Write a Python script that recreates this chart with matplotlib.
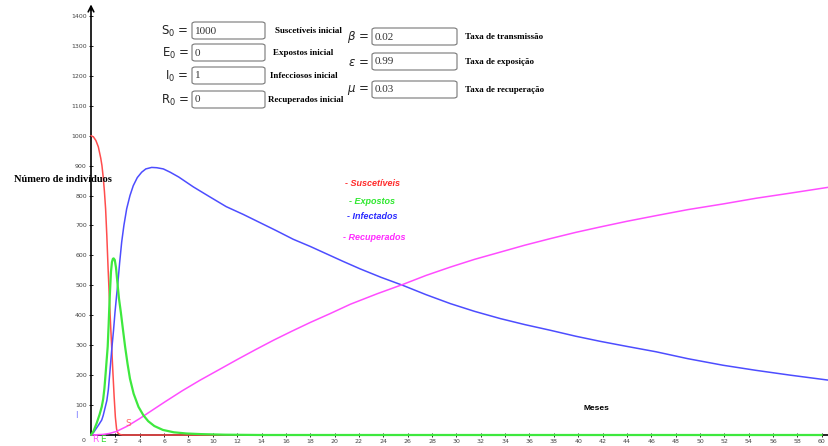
import matplotlib
matplotlib.use("Agg")
import matplotlib.pyplot as plt
from matplotlib.patches import FancyBboxPatch

W, H = 829, 446

# curves read as (month, individuals)
t_s = [0, 0.2, 0.4, 0.6, 0.8, 0.9, 1.0, 1.1, 1.2, 1.3, 1.4, 1.5, 1.6, 1.7,
       1.8, 1.9, 2.0, 2.1, 2.2, 2.35, 2.6, 60]
sus = [1000, 996, 984, 963, 925, 900, 862, 815, 755, 665, 560, 465, 375, 292,
       208, 128, 60, 20, 7, 2, 0, 0]

t_e = [0, 0.2, 0.47, 0.7, 0.88, 1.0, 1.1, 1.2, 1.3, 1.37, 1.45, 1.5, 1.56,
       1.64, 1.72, 1.8, 1.86, 1.95, 2.05, 2.12, 2.19, 2.3, 2.45, 2.6, 2.8,
       3.0, 3.2, 3.5, 3.9, 4.3, 4.7, 5.2, 5.9, 6.8, 7.85, 9, 11, 14, 60]
exp_ = [0, 12, 40, 68, 94, 120, 155, 205, 258, 295, 370, 425, 480,
        545, 578, 589, 590, 585, 560, 530, 500, 455, 410, 360, 295,
        238, 188, 138, 94, 66, 46, 30, 17, 9, 5, 3, 1, 0, 0]

t_i = [0, 0.2, 0.4, 0.6, 0.88, 1.0, 1.15, 1.3, 1.42, 1.55, 1.7, 1.85, 1.97,
       2.1, 2.2, 2.35, 2.52, 2.7, 2.93, 3.2, 3.47, 3.8, 4.16, 4.5, 4.98, 5.4,
       5.94, 6.5, 7.2, 8.4, 9.7, 11.1, 12.5, 13.9, 15.2, 16.6, 18, 19.35,
       20.7, 22.1, 23.8, 25.6, 27.5, 29.5, 31.5, 33.6, 35.6, 37.7, 39.8,
       41.8, 44, 46.4, 49, 51.9, 54.6, 57.4, 60.6]
inf = [1, 8, 20, 32, 50, 65, 90, 115, 150, 210, 285, 350, 410,
       465, 505, 575, 645, 700, 756, 800, 833, 860, 878, 889, 894, 893,
       889, 878, 862, 829, 797, 763, 737, 709, 683, 654, 630, 605,
       580, 555, 527, 500, 469, 439, 413, 389, 369, 350, 330,
       313, 296, 278, 255, 233, 216, 200, 183]

t_r = [0, 1, 1.5, 2.1, 3, 4, 5, 6.08, 7.5, 8.95, 10.5, 12, 13.5, 15, 16.5,
       18, 19.6, 21.3, 23.5, 25.6, 27.5, 29.5, 31.5, 33.6, 35.6, 37.7, 39.8,
       41.8, 44, 46.4, 49, 51.9, 54.6, 57.4, 60.6]
rec = [0, 2, 5, 12, 30, 55, 82, 111, 148, 183, 218, 252, 285, 317, 347,
       376, 405, 437, 472, 503, 533, 561, 587, 611, 634, 656, 677,
       695, 714, 733, 753, 772, 791, 808, 828]

y_ticks = list(range(100, 1500, 100))
x_ticks = list(range(2, 62, 2))

initial = [("S", "1000", "Suscetíveis inicial"),
           ("E", "0", "Expostos inicial"),
           ("I", "1", "Infecciosos inicial"),
           ("R", "0", "Recuperados inicial")]
rates = [(r"\beta", "0.02", "Taxa de transmissão"),
         (r"\epsilon", "0.99", "Taxa de exposição"),
         (r"\mu", "0.03", "Taxa de recuperação")]
legend = [("- Suscetíveis", "#ff2a2a"), ("- Expostos", "#2ee82e"),
          ("- Infectados", "#2a2aff"), ("- Recuperados", "#ff2aff")]

c_s, c_e, c_i, c_r = "#ff4d4d", "#3ee83e", "#4d4dff", "#ff4dff"

x0, xs = 91, 12.18      # origin px, px per month
y0, ys = 435, 0.2993    # origin px, px per individual


def fx(px):
    return px / W


def fy(py):
    return 1 - py / H


fig = plt.figure(figsize=(W / 100, H / 100), dpi=100)
ax = fig.add_axes([0, 0, 1, 1])
ax.set_xlim(-x0 / xs, (W - x0) / xs)
ax.set_ylim(-(H - y0) / ys, y0 / ys)

for s in ["top", "right"]:
    ax.spines[s].set_visible(False)
ax.spines["left"].set_position(("data", 0))
ax.spines["bottom"].set_position(("data", 0))
ax.spines["left"].set_bounds(0, 1430)
ax.spines["bottom"].set_bounds(0, 61)
ax.spines["left"].set_linewidth(1.2)
ax.spines["bottom"].set_linewidth(1.2)
ax.annotate("", xy=(0, 1448), xytext=(0, 1410),
            arrowprops=dict(arrowstyle="->", lw=1.2, color="k"))

ax.set_yticks(y_ticks)
ax.set_xticks(x_ticks)
ax.tick_params(direction="inout", length=3, width=0.6, labelsize=4.5,
               labelcolor="#444444", pad=1.5)
ax.text(-0.45, -10, "0", ha="right", va="top", fontsize=4.5, color="#444444")

kw = dict(solid_joinstyle="round", solid_capstyle="round")
ax.plot(t_s, sus, color=c_s, lw=1.1, zorder=3, **kw)
ax.plot(t_i, inf, color=c_i, lw=1.1, zorder=3, **kw)
ax.plot(t_r, rec, color=c_r, lw=1.1, zorder=3, **kw)
ax.plot(t_e, exp_, color=c_e, lw=1.6, zorder=4, clip_on=False, **kw)

# point labels near the origin
fig.text(fx(76), fy(415), "I", color="#8080ff", fontsize=6.5, ha="center", va="center")
fig.text(fx(95), fy(439), "R", color="#ff55ff", fontsize=6.5, ha="center", va="center")
fig.text(fx(103), fy(439), "E", color="#33dd33", fontsize=6.5, ha="center", va="center")
fig.text(fx(128), fy(424), "S", color="#ff6666", fontsize=6.5, ha="center", va="center")

fig.text(fx(14), fy(180), "Número de indivíduos", family="Liberation Serif",
         fontweight="bold", fontsize=7.5, va="center")
fig.text(fx(584), fy(409), "Meses", family="Liberation Sans",
         fontweight="bold", fontsize=6, va="center")

# input boxes for the initial values
box_top = [22, 44, 67, 91]
label_x = [275, 273, 270, 268]
for (name, val, desc), top, lx in zip(initial, box_top, label_x):
    left = 192
    fig.patches.append(FancyBboxPatch((fx(left), fy(top + 17)), 73 / W, 17 / H,
                                      boxstyle="round,pad=0,rounding_size=0.004",
                                      transform=fig.transFigure, fc="white",
                                      ec="#777777", lw=0.8))
    fig.text(fx(left - 3), fy(top + 9), name + "$_0$ =", ha="right", va="center",
             fontsize=8.5, color="#222222")
    fig.text(fx(left + 3), fy(top + 9), val, ha="left", va="center",
             family="Liberation Serif", fontsize=8, color="#333333")
    fig.text(fx(lx), fy(top + 9), desc, ha="left", va="center",
             family="Liberation Serif", fontweight="bold", fontsize=6.5)

rate_top = [28, 53, 81]
for (sym, val, desc), top in zip(rates, rate_top):
    left = 372
    fig.patches.append(FancyBboxPatch((fx(left), fy(top + 17)), 85 / W, 17 / H,
                                      boxstyle="round,pad=0,rounding_size=0.004",
                                      transform=fig.transFigure, fc="white",
                                      ec="#777777", lw=0.8))
    fig.text(fx(left - 3), fy(top + 9), "$" + sym + "$ =", ha="right", va="center",
             fontsize=8.5, color="#222222")
    fig.text(fx(left + 3), fy(top + 9), val, ha="left", va="center",
             family="Liberation Serif", fontsize=8, color="#333333")
    fig.text(fx(465), fy(top + 9), desc, ha="left", va="center",
             family="Liberation Serif", fontweight="bold", fontsize=6.5)

legend_pos = [(345, 183), (349, 201), (347, 217), (343, 237)]
for (txt, col), (lx, ly) in zip(legend, legend_pos):
    fig.text(fx(lx), fy(ly), txt, color=col, family="Liberation Sans",
             fontweight="bold", fontstyle="italic", fontsize=6.5,
             ha="left", va="center")

fig.savefig("out.png", dpi=100)
